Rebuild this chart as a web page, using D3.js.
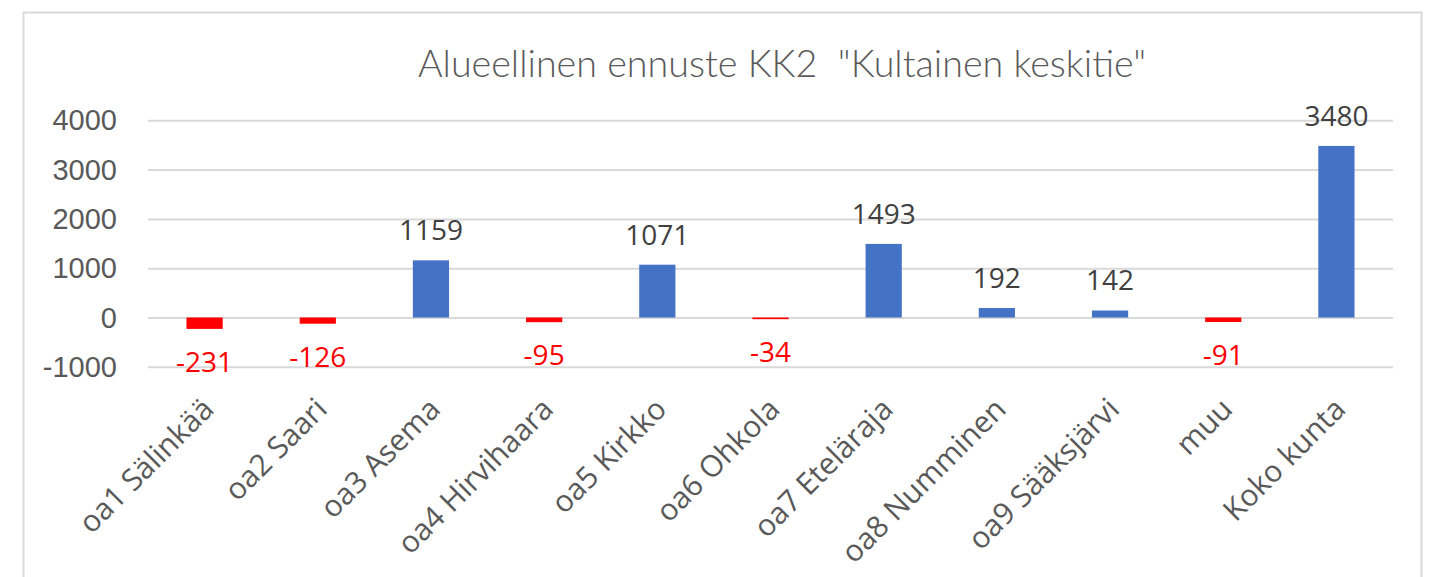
<!DOCTYPE html>
<html>
<head>
<meta charset="utf-8">
<script src="https://cdn.jsdelivr.net/npm/d3@7"></script>
<style>
  body { margin: 0; background: #fff; }
</style>
</head>
<body>
<div id="chart"></div>
<script>
const WIDTH = 1438;
const HEIGHT = 577;
const LEFT = 148;
const RIGHT = 1393;
const TOP = 120.3;
const BOTTOM = 366.8;

const TITLE = 'Alueellinen ennuste KK2  "Kultainen keskitie"';
const categories = ['oa1 Sälinkää', 'oa2 Saari', 'oa3 Asema', 'oa4 Hirvihaara', 'oa5 Kirkko',
  'oa6 Ohkola', 'oa7 Eteläraja', 'oa8 Numminen', 'oa9 Sääksjärvi', 'muu', 'Koko kunta'];
const values = [-231, -126, 1159, -95, 1071, -34, 1493, 192, 142, -91, 3480];
const yTicks = [-1000, 0, 1000, 2000, 3000, 4000];

let svg;

function buildChart(selector) {
  svg = d3.select(selector).append('svg')
    .attr('width', WIDTH)
    .attr('height', HEIGHT)
    .style('font-family', '"Open Sans", sans-serif');

  // outer chart border, runs off the bottom of the picture
  svg.append('rect')
    .attr('x', 23.5)
    .attr('y', 12.5)
    .attr('width', 1398)
    .attr('height', 700)
    .attr('fill', 'none')
    .attr('stroke', '#d9d9d9')
    .attr('stroke-width', 2);

  let x = d3.scaleBand()
    .domain(categories)
    .range([LEFT, RIGHT])
    .paddingInner(0.68)
    .paddingOuter(0.34);

  let y = d3.scaleLinear()
    .domain([-1000, 4000])
    .range([BOTTOM, TOP]);

  svg.append('text')
    .attr('x', 418)
    .attr('y', 77)
    .attr('textLength', 728)
    .attr('lengthAdjust', 'spacingAndGlyphs')
    .attr('fill', '#595959')
    .style('font-family', 'Lato, sans-serif')
    .style('font-weight', 300)
    .style('font-size', '37px')
    .style('white-space', 'pre')
    .text(TITLE);

  let yAxis = svg.append('g')
    .attr('transform', `translate(${LEFT},0)`)
    .call(d3.axisLeft(y).tickValues(yTicks).tickSize(-(RIGHT - LEFT)).tickPadding(31).tickFormat((d) => String(d)));
  yAxis.select('.domain').remove();
  yAxis.selectAll('line').attr('stroke', '#d9d9d9').attr('stroke-width', 2);
  yAxis.selectAll('text')
    .attr('fill', '#595959')
    .style('font-size', '29px')
    .attr('dy', '0.33em');

  svg.append('g').selectAll('rect')
    .data(values)
    .enter()
    .append('rect')
    .attr('x', (d, i) => x(categories[i]))
    .attr('y', (d) => y(Math.max(d, 0)))
    .attr('width', x.bandwidth())
    .attr('height', (d) => Math.abs(y(d) - y(0)))
    .attr('fill', (d) => d < 0 ? '#ff0000' : '#4472c4');

  svg.append('g').selectAll('text')
    .data(values)
    .enter()
    .append('text')
    .attr('x', (d, i) => x(categories[i]) + x.bandwidth() / 2)
    .attr('y', (d) => d < 0 ? y(d) + 43 : y(d) - 20)
    .attr('text-anchor', 'middle')
    .attr('fill', (d) => d < 0 ? '#ff0000' : '#404040')
    .style('font-size', '28px')
    .text((d) => d);

  svg.append('g').selectAll('text')
    .data(categories)
    .enter()
    .append('text')
    .attr('transform', (d) => `translate(${x(d) + x.bandwidth() / 2 + 11},411) rotate(-45)`)
    .attr('text-anchor', 'end')
    .attr('fill', '#595959')
    .style('font-size', '30px')
    .text((d) => d);
}

buildChart('#chart');
</script>
</body>
</html>
